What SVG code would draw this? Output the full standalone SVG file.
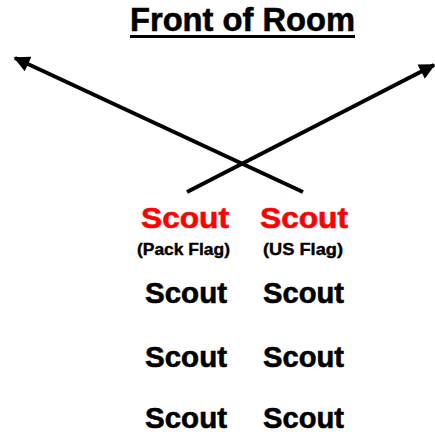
<svg xmlns="http://www.w3.org/2000/svg" width="435" height="436" viewBox="0 0 435 436">
<defs>
<style>
text{font-family:"Liberation Sans",Arial,sans-serif;font-weight:bold}
.red{fill:#ff0000;stroke:#ff0000;stroke-width:0.6;font-size:30px}
.blk{fill:#000;stroke:#000;stroke-width:0.6;font-size:30px}
.sub{fill:#000;stroke:#000;stroke-width:0.4;font-size:17px}
.ln{stroke:#000;stroke-width:4;fill:none;stroke-linecap:butt}
</style>
<marker id="ah" viewBox="0 0 10 10" refX="9" refY="5" markerWidth="4.5" markerHeight="4" orient="auto" markerUnits="strokeWidth">
<path d="M0,0 L10,5 L0,10 Z" fill="#000"/>
</marker>
</defs>
<rect width="435" height="436" fill="#fff"/>
<g id="title">
<text x="130" y="31" font-size="34" stroke="#000" stroke-width="0.6" textLength="225" lengthAdjust="spacingAndGlyphs">Front of Room</text>
<rect x="130" y="35" width="225" height="3" fill="#000"/>
</g>
<g id="connectors">
<line class="ln" x1="303" y1="192" x2="15" y2="58" marker-end="url(#ah)"/>
<line class="ln" x1="187" y1="192" x2="434" y2="65" marker-end="url(#ah)"/>
</g>
<g id="scout-pack">
<text class="red" x="141" y="228" textLength="88" lengthAdjust="spacingAndGlyphs">Scout</text>
<text class="sub" x="137" y="255" textLength="93" lengthAdjust="spacingAndGlyphs">(Pack Flag)</text>
</g>
<g id="scout-us">
<text class="red" x="260" y="228" textLength="88" lengthAdjust="spacingAndGlyphs">Scout</text>
<text class="sub" x="263" y="255" textLength="80" lengthAdjust="spacingAndGlyphs">(US Flag)</text>
</g>
<g id="scout-r1-l"><text class="blk" x="145" y="303" textLength="82" lengthAdjust="spacingAndGlyphs">Scout</text></g>
<g id="scout-r1-r"><text class="blk" x="263" y="303" textLength="81" lengthAdjust="spacingAndGlyphs">Scout</text></g>
<g id="scout-r2-l"><text class="blk" x="145" y="367" textLength="82" lengthAdjust="spacingAndGlyphs">Scout</text></g>
<g id="scout-r2-r"><text class="blk" x="263" y="367" textLength="81" lengthAdjust="spacingAndGlyphs">Scout</text></g>
<g id="scout-r3-l"><text class="blk" x="145" y="428" textLength="82" lengthAdjust="spacingAndGlyphs">Scout</text></g>
<g id="scout-r3-r"><text class="blk" x="263" y="428" textLength="81" lengthAdjust="spacingAndGlyphs">Scout</text></g>
</svg>
